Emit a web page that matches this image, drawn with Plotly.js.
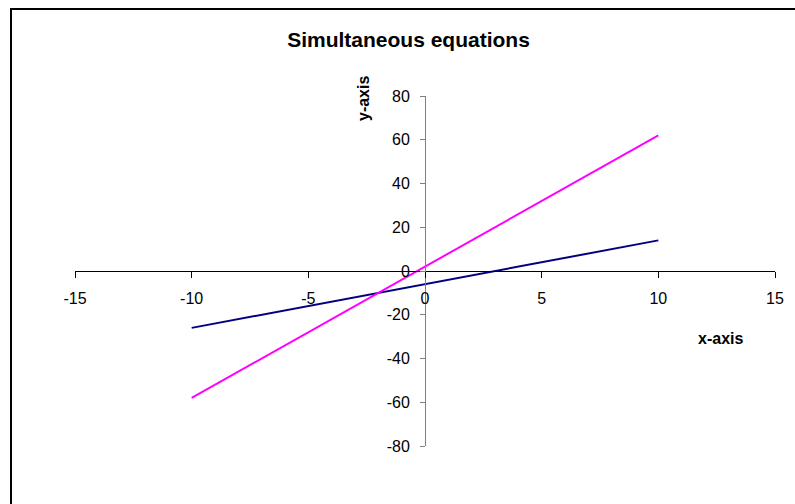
<!DOCTYPE html>
<html>
<head>
<meta charset="utf-8">
<script src="https://cdn.plot.ly/plotly-3.0.1.min.js"></script>
<style>
html, body { margin: 0; padding: 0; background: #ffffff; overflow: hidden; }
#chart { width: 795px; height: 504px; }
</style>
</head>
<body>
<div id="chart"></div>
<script>
// Data
const xValues = [-10, 10];
const navyY = [-26, 14];
const magentaY = [-58, 62];
const xTicks = [-15, -10, -5, 0, 5, 10, 15];
const yTicks = [-80, -60, -40, -20, 0, 20, 40, 60, 80];

const traces = [
  { x: xValues, y: navyY, type: 'scatter', mode: 'lines', name: 'Series 1',
    line: { color: '#000080', width: 2 } },
  { x: xValues, y: magentaY, type: 'scatter', mode: 'lines', name: 'Series 2',
    line: { color: '#FF00FF', width: 2 } }
];

const W = 795, H = 504, L = 75, R = 20, T = 96, B = 58;
const pw = W - L - R, ph = H - T - B;
const px = v => (v - L) / pw;          // pixel x -> paper x
const py = v => (H - B - v) / ph;      // pixel y -> paper y

const layout = {
  width: W, height: H,
  margin: { l: L, r: R, t: T, b: B, pad: 0 },
  paper_bgcolor: '#ffffff',
  plot_bgcolor: 'rgba(0,0,0,0)',
  showlegend: false,
  font: { family: 'Liberation Sans, Arial, sans-serif', size: 16, color: '#000000' },
  title: {
    text: '<b>Simultaneous equations</b>',
    font: { family: 'Liberation Sans, Arial, sans-serif', size: 21, color: '#000000' },
    xref: 'container', yref: 'container',
    x: 408.5 / W, y: 1 - 40 / H, xanchor: 'center', yanchor: 'middle'
  },
  xaxis: {
    range: [-15, 15], tickvals: xTicks, ticktext: xTicks.map(String),
    anchor: 'free', position: 0.5,
    showgrid: false, zeroline: false,
    showline: true, linecolor: '#000000', linewidth: 1,
    ticks: 'outside', ticklen: 6, tickcolor: '#000000', tickwidth: 1,
    ticklabelstandoff: 7,
    tickfont: { size: 16, color: '#000000' }
  },
  yaxis: {
    range: [-80, 80], tickvals: yTicks, ticktext: yTicks.map(String),
    anchor: 'free', position: 0.5,
    showgrid: false, zeroline: false,
    showline: true, linecolor: '#808080', linewidth: 1,
    ticks: 'outside', ticklen: 5, tickcolor: '#808080', tickwidth: 1,
    ticklabelstandoff: 7,
    tickfont: { size: 16, color: '#000000' }
  },
  annotations: [
    { text: '<b>x-axis</b>', xref: 'paper', yref: 'paper', x: px(720), y: py(338),
      xanchor: 'center', yanchor: 'middle', showarrow: false,
      font: { size: 16, color: '#000000' } },
    { text: '<b>y-axis</b>', xref: 'paper', yref: 'paper', x: px(363), y: py(99),
      xanchor: 'center', yanchor: 'middle', showarrow: false, textangle: -90,
      font: { size: 16, color: '#000000' } }
  ],
  shapes: [
    { type: 'rect', xref: 'paper', yref: 'paper', layer: 'above',
      x0: px(11), x1: px(805), y0: py(515), y1: py(9),
      line: { color: '#000000', width: 2 } }
  ]
};

Plotly.newPlot('chart', traces, layout, { displayModeBar: false, staticPlot: true });
</script>
</body>
</html>
